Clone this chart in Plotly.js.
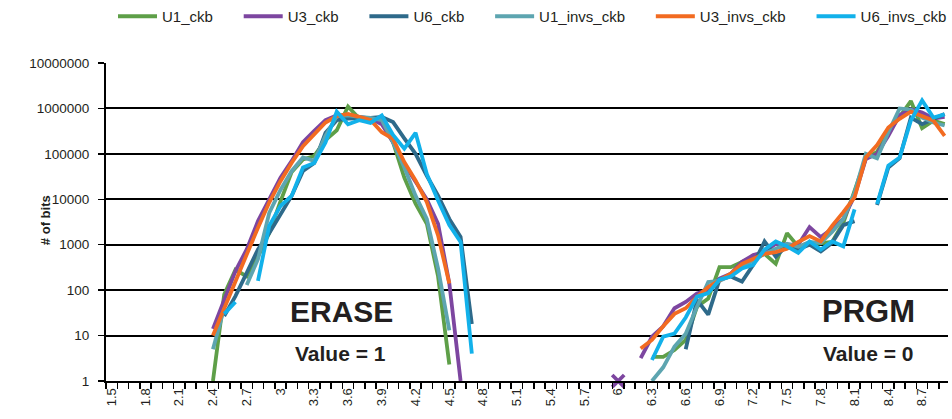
<!DOCTYPE html>
<html><head><meta charset="utf-8">
<script src="https://cdn.plot.ly/plotly-3.0.1.min.js"></script>
<style>html,body{margin:0;padding:0;background:#fff}#chart{width:952px;height:419px}</style>
</head><body><div id="chart"></div>
<script>
// Categories (x values, step 0.1)
const ERASE_X = [2.4,2.5,2.6,2.7,2.8,2.9,3.0,3.1,3.2,3.3,3.4,3.5,3.6,3.7,3.8,3.9,4.0,4.1,4.2,4.3,4.4,4.5,4.6,4.7];
const PRGM_X  = [6.2,6.3,6.4,6.5,6.6,6.7,6.8,6.9,7.0,7.1,7.2,7.3,7.4,7.5,7.6,7.7,7.8,7.9,8.0,8.1,8.2,8.3,8.4,8.5,8.6,8.7,8.8,8.9];
const GAP_X = [5.5];

// ERASE region values (# of bits)
const U1_ckb_erase      = [1,80,280,200,550,1800,9000,40000,75000,90000,200000,330000,1100000,600000,600000,500000,180000,30000,8000,2900,200,2.3,null,null];
const U3_ckb_erase      = [14,63,263,790,3300,10000,30000,70000,180000,320000,550000,700000,700000,650000,600000,450000,180000,60000,24000,10000,2900,140,1,null];
const U6_ckb_erase      = [null,27,74,240,790,1800,4700,12000,42000,63000,290000,550000,600000,600000,620000,650000,500000,220000,100000,33000,12000,3700,1480,18];
const U1_invs_ckb_erase = [5,40,null,130,480,5000,16000,42000,83000,70000,250000,680000,700000,650000,620000,550000,180000,50000,12000,3700,300,13,null,null];
const U3_invs_ckb_erase = [10,41,160,610,2350,8500,25000,64000,148000,270000,490000,680000,760000,650000,560000,300000,214000,66000,26000,8700,1600,140,null,null];
const U6_invs_ckb_erase = [null,30,55,null,160,2600,7100,12000,50000,63000,178000,850000,450000,550000,480000,700000,260000,130000,290000,36000,9400,2700,1150,4];

// PRGM region values (# of bits)
const U1_ckb_prgm      = [null,3.4,3.4,4.8,8,43,65,320,320,415,540,630,380,1800,900,1000,1050,1150,3000,15000,80000,110000,300000,650000,1450000,370000,540000,450000];
const U3_ckb_prgm      = [3.2,9.4,16,40,55,84,100,180,230,420,590,690,1050,1000,1000,2450,1470,2240,3700,12000,77000,100000,250000,710000,960000,810000,600000,650000];
const U6_ckb_prgm      = [null,null,null,null,5,61,29,170,200,155,360,1180,550,960,800,1000,710,1100,2700,3300,null,7500,50000,80000,630000,450000,590000,750000];
const U1_invs_ckb_prgm = [null,1,2,5.7,11,43,150,160,210,320,450,630,820,1050,900,1150,1100,1900,3700,14000,100000,80000,300000,1000000,940000,630000,490000,420000];
const U3_invs_ckb_prgm = [5.2,8,16,30,40,71,117,165,230,380,490,630,690,820,1150,1550,1180,2600,5200,11000,83000,156000,380000,590000,850000,670000,540000,250000];
const U6_invs_ckb_prgm = [null,2.9,9.5,11,25,72,86,170,200,300,360,780,1180,920,660,1180,780,1180,920,6000,null,7900,55000,83000,540000,1500000,630000,740000];

// Lone marker of U3_ckb
const U3_MARK_X = [6.0];
const U3_MARK_Y = [1];

// Axis labels
const X_TICK_VALS = [1.5,1.8,2.1,2.4,2.7,3.0,3.3,3.6,3.9,4.2,4.5,4.8,5.1,5.4,5.7,6.0,6.3,6.6,6.9,7.2,7.5,7.8,8.1,8.4,8.7];
const X_TICK_TEXT = ['1.5','1.8','2.1','2.4','2.7','3','3.3','3.6','3.9','4.2','4.5','4.8','5.1','5.4','5.7','6','6.3','6.6','6.9','7.2','7.5','7.8','8.1','8.4','8.7'];
const Y_TICK_VALS = [1,10,100,1000,10000,100000,1000000,10000000];
const Y_TICK_TEXT = ['1','10','100','1000','10000','100000','1000000','10000000'];

const NAMES  = ['U1_ckb','U3_ckb','U6_ckb','U1_invs_ckb','U3_invs_ckb','U6_invs_ckb'];
const COLORS = ['#5E9F48','#7D46A0','#2E6A8A','#5DA5B0','#F26B21','#12B1EA'];
const ERASE_VALS = [U1_ckb_erase,U3_ckb_erase,U6_ckb_erase,U1_invs_ckb_erase,U3_invs_ckb_erase,U6_invs_ckb_erase];
const PRGM_VALS  = [U1_ckb_prgm,U3_ckb_prgm,U6_ckb_prgm,U1_invs_ckb_prgm,U3_invs_ckb_prgm,U6_invs_ckb_prgm];

const FONT = '"Liberation Sans", Arial, sans-serif';
const PAD = '\u00a0\u00a0\u00a0\u00a0\u00a0';

const traces = NAMES.map((n,i)=>({
  type:'scatter', mode:'lines', name: n + (i < NAMES.length-1 ? PAD : ''),
  x: ERASE_X.concat(GAP_X, PRGM_X),
  y: ERASE_VALS[i].concat([null], PRGM_VALS[i]),
  connectgaps:false,
  line:{color:COLORS[i], width:3.8},
  hoverinfo:'skip'
}));
traces.push({
  type:'scatter', mode:'markers', x:U3_MARK_X, y:U3_MARK_Y, showlegend:false,
  marker:{symbol:'x-thin', size:12, color:COLORS[1], line:{color:COLORS[1], width:3.8}},
  cliponaxis:false, hoverinfo:'skip'
});

const txt = '#231F20';
const layout = {
  width:952, height:419,
  margin:{l:106, r:4, t:63, b:38, pad:0},
  paper_bgcolor:'#fff', plot_bgcolor:'#fff',
  font:{family:FONT, color:txt, size:14},
  showlegend:true,
  legend:{orientation:'h', xref:'paper', x:0.0085, xanchor:'left', yref:'container', y:1.0, yanchor:'top',
    font:{family:FONT, size:15, color:txt}, itemwidth:39, bgcolor:'rgba(0,0,0,0)', traceorder:'normal'},
  xaxis:{
    range:[1.45, 8.93], showgrid:false, zeroline:false,
    showline:true, linecolor:'#000', linewidth:2,
    tickmode:'array', tickvals:X_TICK_VALS, ticktext:X_TICK_TEXT,
    ticks:'', tickangle:-90, tickfont:{family:FONT, size:13, color:txt},
    minor:{tick0:1.45, dtick:0.1, ticks:'outside', ticklen:6, tickwidth:1.5, tickcolor:'#000', showgrid:false}
  },
  yaxis:{
    type:'log', range:[0,7], showgrid:true, gridcolor:'#000', gridwidth:2,
    zeroline:false, showline:true, linecolor:'#000', linewidth:2,
    tickmode:'array', tickvals:Y_TICK_VALS, ticktext:Y_TICK_TEXT,
    ticks:'outside', ticklen:6, tickwidth:1.5, tickcolor:'#000',
    ticklabelstandoff:6,
    tickfont:{family:FONT, size:13.5, color:txt}
  },
  annotations:[
    {xref:'paper', yref:'paper', x:0.280, y:0.220, text:'ERASE', showarrow:false, xanchor:'center', yanchor:'middle',
      font:{family:FONT, size:30, color:txt, weight:'bold'}},
    {xref:'paper', yref:'paper', x:0.279, y:0.088, text:'Value = 1', showarrow:false, xanchor:'center', yanchor:'middle',
      font:{family:FONT, size:21, color:txt, weight:'bold'}},
    {xref:'paper', yref:'paper', x:0.905, y:0.220, text:'PRGM', showarrow:false, xanchor:'center', yanchor:'middle',
      font:{family:FONT, size:31, color:txt, weight:'bold'}},
    {xref:'paper', yref:'paper', x:0.905, y:0.088, text:'Value = 0', showarrow:false, xanchor:'center', yanchor:'middle',
      font:{family:FONT, size:21, color:txt, weight:'bold'}},
    {xref:'paper', yref:'paper', x:-0.0724, y:0.506, text:'# of bits', showarrow:false, textangle:-90,
      xanchor:'center', yanchor:'middle', font:{family:FONT, size:13, color:txt, weight:'bold'}}
  ]
};

Plotly.newPlot('chart', traces, layout, {displayModeBar:false, staticPlot:true});
</script></body></html>
